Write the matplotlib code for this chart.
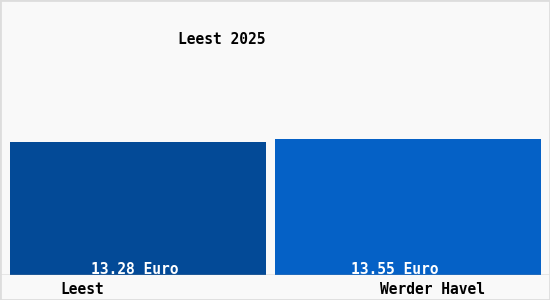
import matplotlib
matplotlib.use("Agg")
import matplotlib.pyplot as plt
from matplotlib.patches import Rectangle

title = "Leest 2025"
places = ["Leest", "Werder Havel"]
prices = [13.28, 13.55]
value_labels = [f"{p:.2f} Euro" for p in prices]

colors = ["#034a97", "#0561c6"]
bar_left = [10, 275]
bar_width = [256, 266]
label_x = [82, 432]
value_x = [135, 395]

W, H = 550, 300
fig = plt.figure(figsize=(W / 100, H / 100), dpi=100)
fig.patch.set_facecolor("#f9f9f9")

# axes: full width, baseline at y=275 px from top
base = 275
ax = fig.add_axes([0, (H - base) / H, 1, base / H])
ax.set_facecolor("none")
ax.set_xlim(0, W)
ax.set_ylim(0, base / 10.04)
ax.axis("off")

ax.bar(bar_left, prices, width=bar_width, color=colors, align="edge", zorder=2)
ax.axhline(0, xmin=0, xmax=548 / W, color="#999999", lw=1, zorder=3)

font = dict(family="DejaVu Sans Mono", fontsize=10.5, fontweight="bold")
for x, t in zip(value_x, value_labels):
    ax.text(x, (base - 269) / 10.04, t, color="white", ha="center", va="center",
            zorder=4, **font)

for x, t in zip(label_x, places):
    fig.text(x / W, 1 - 289 / H, t, color="black", ha="center", va="center", **font)

fig.text(222 / W, 1 - 39 / H, title, color="black", ha="center", va="center", **font)

# light border round the picture
fig.add_artist(Rectangle((0, 0), 1, 1, transform=fig.transFigure, fill=False,
                         edgecolor="#dddddd", lw=2))

fig.savefig("out.png", dpi=100, facecolor=fig.get_facecolor())
